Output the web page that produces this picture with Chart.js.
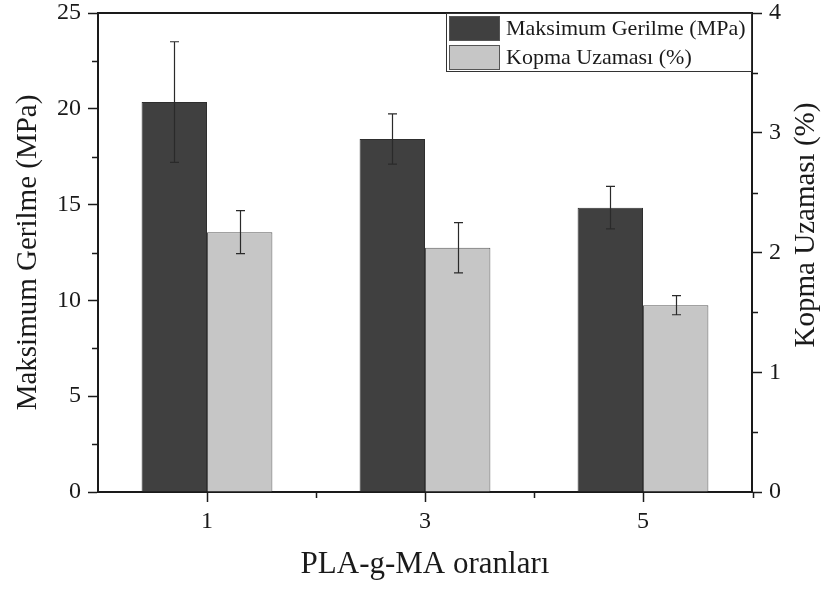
<!DOCTYPE html>
<html>
<head>
<meta charset="utf-8">
<script src="https://cdn.jsdelivr.net/npm/chart.js@4.4.1/dist/chart.umd.min.js"></script>
<style>
  html, body { margin: 0; padding: 0; background: #ffffff; }
  canvas { display: block; }
</style>
</head>
<body>
<canvas id="c" width="823" height="590"></canvas>
<script>
// PLA-g-MA ratios and the two measured properties
const categories = ['1', '3', '5'];
const gerilme = [20.35, 18.42, 14.84];      // Maksimum Gerilme (MPa)
const gerilmeErr = [3.15, 1.31, 1.11];
const uzama = [2.17, 2.04, 1.56];           // Kopma Uzaması (%)
const uzamaErr = [0.18, 0.21, 0.08];
const gerilmeMinor = [2.5, 7.5, 12.5, 17.5, 22.5];
const uzamaMinor = [0.5, 1.5, 2.5, 3.5];

const SERIF = "'Liberation Serif', 'Times New Roman', serif";
const INK = '#1a1a1a';

// whiskers for both series, using each bar's own scale
const errorBars = {
  id: 'errorBars',
  afterDatasetsDraw(chart) {
    const ctx = chart.ctx;
    const errs = [gerilmeErr, uzamaErr];
    chart.data.datasets.forEach((ds, di) => {
      const meta = chart.getDatasetMeta(di);
      const scale = chart.scales[meta.yAxisID];
      meta.data.forEach((bar, i) => {
        const v = ds.data[i], e = errs[di][i];
        const yTop = scale.getPixelForValue(v + e);
        const yBot = scale.getPixelForValue(v - e);
        const x = Math.round(bar.x) + 0.5;
        ctx.save();
        ctx.strokeStyle = '#2a2a2a';
        ctx.lineWidth = 1.2;
        ctx.beginPath();
        ctx.moveTo(x, yTop); ctx.lineTo(x, yBot);
        ctx.moveTo(x - 4.5, yTop); ctx.lineTo(x + 4.5, yTop);
        ctx.moveTo(x - 4.5, yBot); ctx.lineTo(x + 4.5, yBot);
        ctx.stroke();
        ctx.restore();
      });
    });
  }
};

// top frame line, minor ticks on all three axes
const frameAndMinor = {
  id: 'frameAndMinor',
  afterDraw(chart) {
    const ctx = chart.ctx;
    const a = chart.chartArea;
    const y = chart.scales.y, y1 = chart.scales.y1, x = chart.scales.x;
    ctx.save();
    ctx.strokeStyle = INK;
    ctx.lineWidth = 2;
    ctx.beginPath();
    ctx.moveTo(a.left - 1, a.top); ctx.lineTo(a.right + 1, a.top);
    ctx.stroke();
    ctx.lineWidth = 1.5;
    ctx.beginPath();
    gerilmeMinor.forEach(v => {
      const p = Math.round(y.getPixelForValue(v)) + 0.5;
      ctx.moveTo(a.left - 6, p); ctx.lineTo(a.left, p);
    });
    uzamaMinor.forEach(v => {
      const p = Math.round(y1.getPixelForValue(v)) + 0.5;
      ctx.moveTo(a.right, p); ctx.lineTo(a.right + 6, p);
    });
    for (let i = 0; i < categories.length - 1; i++) {
      const p = Math.round((x.getPixelForTick(i) + x.getPixelForTick(i + 1)) / 2) + 0.5;
      ctx.moveTo(p, a.bottom); ctx.lineTo(p, a.bottom + 6);
    }
    ctx.moveTo(a.right + 1.5, a.bottom); ctx.lineTo(a.right + 1.5, a.bottom + 6);
    ctx.stroke();
    ctx.restore();
  }
};

// framed legend in the upper right corner of the plot
const boxLegend = {
  id: 'boxLegend',
  afterDraw(chart) {
    const ctx = chart.ctx;
    const a = chart.chartArea;
    const w = 306, h = 58;
    const bx = a.right - w, by = a.top;
    ctx.save();
    ctx.fillStyle = '#ffffff';
    ctx.fillRect(bx, by, w, h);
    ctx.strokeStyle = '#333333';
    ctx.lineWidth = 1;
    ctx.strokeRect(bx + 0.5, by + 0.5, w - 1, h);
    ctx.font = '22px ' + SERIF;
    ctx.textBaseline = 'middle';
    chart.data.datasets.forEach((ds, i) => {
      const sy = by + 3 + i * 29;
      ctx.fillStyle = ds.backgroundColor;
      ctx.fillRect(bx + 3.5, sy, 50, 24);
      ctx.strokeStyle = '#555555';
      ctx.strokeRect(bx + 3.5, sy + 0.5, 50, 24);
      ctx.fillStyle = INK;
      ctx.fillText(ds.label, bx + 60, sy + 13);
    });
    ctx.restore();
  }
};

// right-hand axis title, reading bottom to top
const rightTitle = {
  id: 'rightTitle',
  afterDraw(chart) {
    const ctx = chart.ctx;
    ctx.save();
    ctx.translate(806, 225);
    ctx.rotate(-Math.PI / 2);
    ctx.font = '29px ' + SERIF;
    ctx.fillStyle = INK;
    ctx.textAlign = 'center';
    ctx.textBaseline = 'middle';
    ctx.fillText('Kopma Uzaması (%)', 0, 0);
    ctx.restore();
  }
};

const tickGrid = {
  display: true,
  drawOnChartArea: false,
  drawTicks: true,
  tickLength: 10,
  tickColor: INK,
  tickWidth: 1.5
};

// fixed scale boxes so the plot area sits where it should
function fixVertical(width) {
  return function (s) {
    s.width = width;
    s.paddingTop = 0;
    s.paddingBottom = 0;
  };
}

new Chart(document.getElementById('c'), {
  type: 'bar',
  data: {
    labels: categories,
    datasets: [
      {
        label: 'Maksimum Gerilme (MPa)',
        data: gerilme,
        yAxisID: 'y',
        backgroundColor: '#404040',
        borderColor: '#2e2e2e',
        borderWidth: 1,
        categoryPercentage: 0.6,
        barPercentage: 1.0
      },
      {
        label: 'Kopma Uzaması (%)',
        data: uzama,
        yAxisID: 'y1',
        backgroundColor: '#c6c6c6',
        borderColor: '#5a5a5a',
        borderWidth: 1,
        categoryPercentage: 0.6,
        barPercentage: 1.0
      }
    ]
  },
  options: {
    responsive: false,
    animation: false,
    devicePixelRatio: 1,
    layout: { padding: { top: 13, left: 0, right: 0, bottom: 0 } },
    plugins: {
      legend: { display: false },
      tooltip: { enabled: false }
    },
    scales: {
      x: {
        position: 'bottom',
        grid: Object.assign({}, tickGrid, { offset: false }),
        border: { display: true, color: INK, width: 2 },
        ticks: { color: INK, font: { family: SERIF, size: 24 }, padding: 5 },
        title: {
          display: true,
          text: 'PLA-g-MA oranları',
          color: INK,
          font: { family: SERIF, size: 31 },
          padding: { top: 0, bottom: 7 }
        },
        afterFit(s) { s.height = 98; s.paddingLeft = 0; s.paddingRight = 0; }
      },
      y: {
        position: 'left',
        min: 0, max: 25,
        grid: tickGrid,
        border: { display: true, color: INK, width: 2 },
        ticks: { stepSize: 5, color: INK, font: { family: SERIF, size: 24 }, padding: 7 },
        title: {
          display: true,
          text: 'Maksimum Gerilme (MPa)',
          color: INK,
          font: { family: SERIF, size: 29 },
          padding: { top: 11, bottom: 0 }
        },
        afterFit: fixVertical(98)
      },
      y1: {
        position: 'right',
        min: 0, max: 4,
        grid: tickGrid,
        border: { display: true, color: INK, width: 2 },
        ticks: { stepSize: 1, color: INK, font: { family: SERIF, size: 24 }, padding: 7 },
        afterFit: fixVertical(71)
      }
    }
  },
  plugins: [errorBars, frameAndMinor, boxLegend, rightTitle]
});
</script>
</body>
</html>
